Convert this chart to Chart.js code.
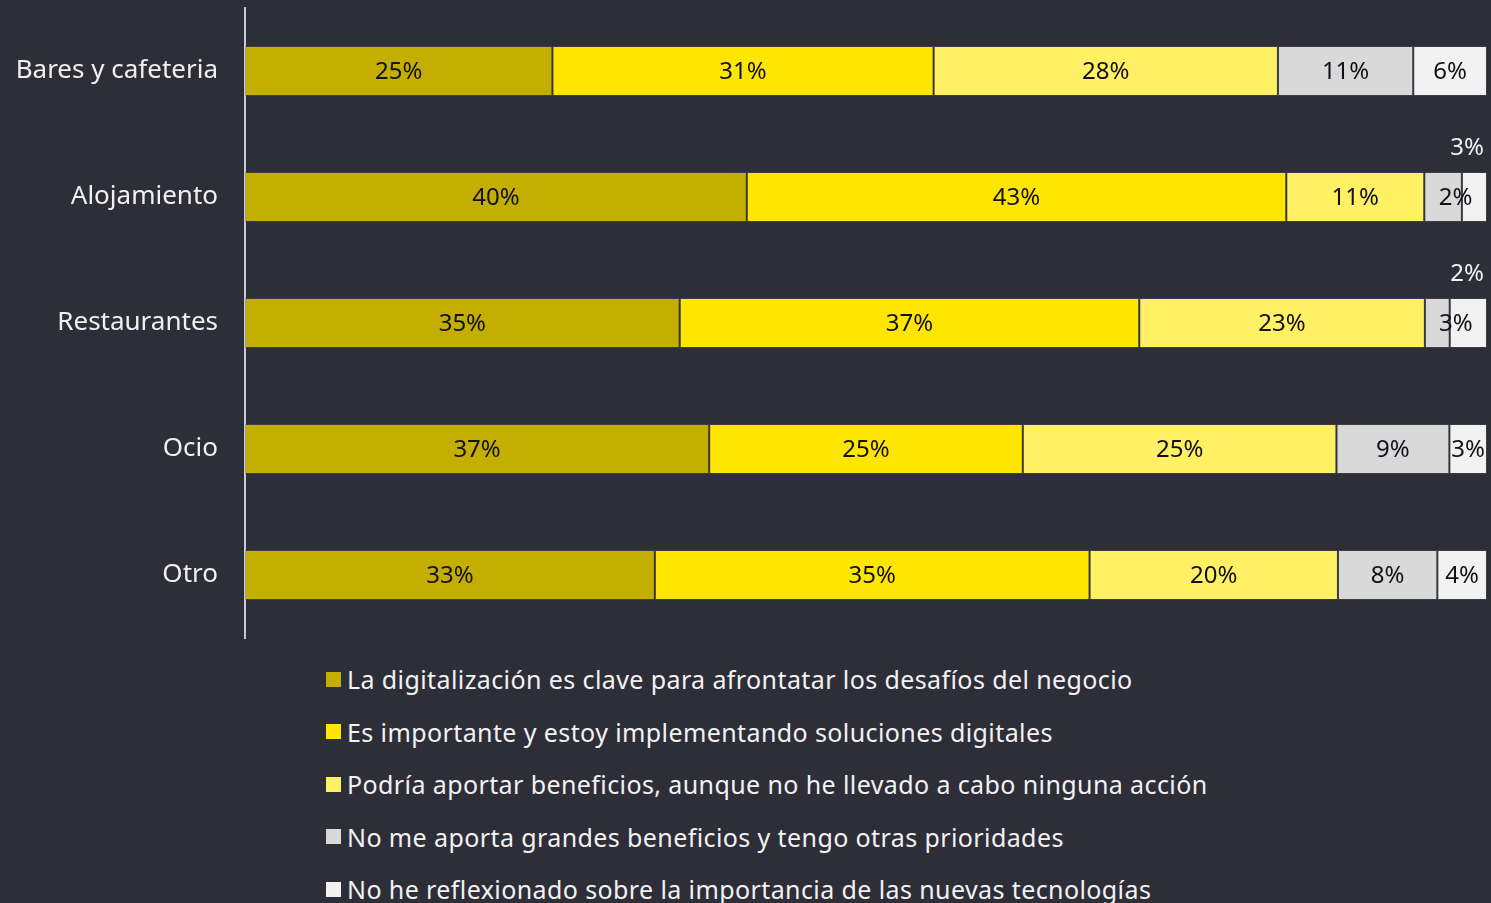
<!DOCTYPE html>
<html>
<head>
<meta charset="utf-8">
<script src="https://cdn.jsdelivr.net/npm/chart.js@4/dist/chart.umd.min.js"></script>
<style>
  html, body { margin: 0; padding: 0; background: #2e2e38; width: 1491px; height: 903px; overflow: hidden; }
  #c { position: absolute; left: 0; top: 0; }
  #legend { position: absolute; left: 326px; top: 653px; font-family: "Noto Sans", sans-serif; font-size: 25px; letter-spacing: 0.4px; color: #f2f2f2; }
  .item { height: 52.5px; display: flex; align-items: center; white-space: nowrap; }
  .sw { width: 15px; height: 15px; margin-right: 6px; flex: none; }
</style>
</head>
<body>
<canvas id="c" width="1491" height="650"></canvas>
<div id="legend"></div>
<script>
const categories = ["Bares y cafeteria", "Alojamiento", "Restaurantes", "Ocio", "Otro"];
const seriesNames = [
  "La digitalización es clave para afrontatar los desafíos del negocio",
  "Es importante y estoy implementando soluciones digitales",
  "Podría aportar beneficios, aunque no he llevado a cabo ninguna acción",
  "No me aporta grandes beneficios y tengo otras prioridades",
  "No he reflexionado sobre la importancia de las nuevas tecnologías"
];
const clave        = [25, 40, 35, 37, 33];
const importante   = [31, 43, 37, 25, 35];
const podria       = [28, 11, 23, 25, 20];
const noAporta     = [11,  3,  2,  9,  8];
const noReflexiona = [ 6,  2,  3,  3,  4];
const seriesColors = ["#c4ae00", "#ffe600", "#fff064", "#d9d9d9", "#f2f2f2"];

const series = [clave, importante, podria, noAporta, noReflexiona];
const totals = categories.map((_, i) => series.reduce((s, arr) => s + arr[i], 0));

const legendEl = document.getElementById('legend');
seriesNames.forEach((n, i) => {
  const d = document.createElement('div'); d.className = 'item';
  const s = document.createElement('span'); s.className = 'sw'; s.style.background = seriesColors[i];
  const t = document.createElement('span'); t.textContent = n;
  d.appendChild(s); d.appendChild(t); legendEl.appendChild(d);
});

const FONT = '"Noto Sans", sans-serif';

const labelPlugin = {
  id: 'segLabels',
  afterDatasetsDraw(chart) {
    const ctx = chart.ctx;
    const area = chart.chartArea;
    ctx.save();
    ctx.beginPath();
    ctx.rect(area.left, 0, area.right - area.left, chart.height);
    ctx.clip();
    ctx.font = '24px ' + FONT;
    ctx.textBaseline = 'middle';
    const n = series.length;
    categories.forEach((c, ci) => {
      const small = series[n - 2][ci] < 4 && series[n - 1][ci] < 4;
      for (let di = 0; di < n; di++) {
        const el = chart.getDatasetMeta(di).data[ci];
        const txt = series[di][ci] + '%';
        let x = (el.x + el.base) / 2, y = el.y + 1;
        ctx.fillStyle = '#111118';
        ctx.textAlign = 'center';
        if (small && di === n - 2) {
          ctx.fillStyle = '#f2f2f2';
          ctx.textAlign = 'right';
          x = area.right - 3;
          y = el.y - el.height / 2 - 24;
        } else if (small && di === n - 1) {
          const g = chart.getDatasetMeta(n - 2).data[ci];
          x = (g.base + el.x) / 2;
        }
        ctx.fillText(txt, x, y);
      }
    });
    ctx.restore();
  }
};

const chart = new Chart(document.getElementById('c'), {
  type: 'bar',
  data: {
    labels: categories,
    datasets: series.map((arr, i) => ({
      label: seriesNames[i],
      data: arr.map((v, ci) => v / totals[ci] * 100),
      backgroundColor: seriesColors[i],
      borderColor: 'rgba(90,90,90,0.35)',
      borderWidth: 1,
      borderSkipped: false,
      barPercentage: 0.8,
      categoryPercentage: 0.497
    }))
  },
  options: {
    indexAxis: 'y',
    responsive: false,
    maintainAspectRatio: false,
    devicePixelRatio: 1,
    animation: false,
    layout: { padding: { left: 0, right: 4, top: 8, bottom: 12 } },
    plugins: { legend: { display: false }, tooltip: { enabled: false } },
    scales: {
      x: { stacked: true, display: false, min: 0, max: 100 },
      y: {
        stacked: true,
        grid: { display: false },
        border: { display: true, color: '#c8c8d0', width: 2 },
        ticks: { color: '#f0f0f0', font: { family: FONT, size: 26 }, padding: 19 },
        afterFit(scale) { scale.width = 245; scale.paddingTop = 0; scale.paddingBottom = 0; }
      }
    }
  },
  plugins: [labelPlugin]
});
</script>
</body>
</html>
